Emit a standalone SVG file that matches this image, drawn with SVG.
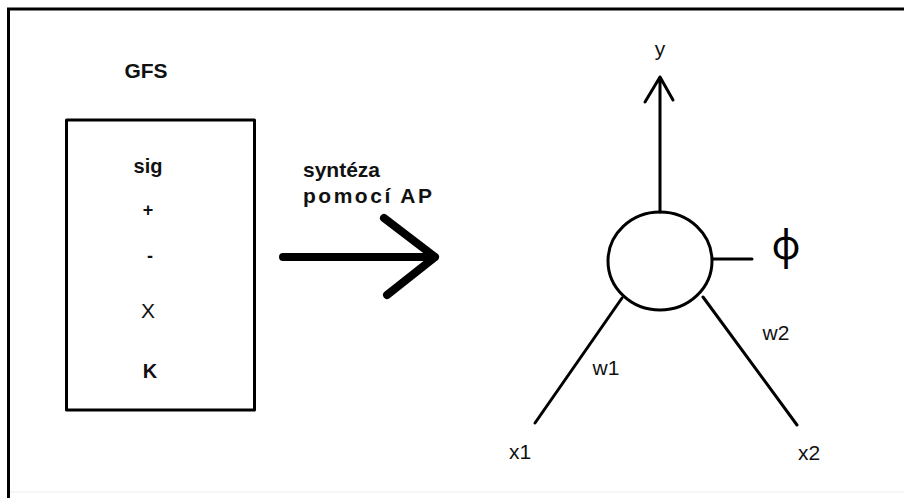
<svg xmlns="http://www.w3.org/2000/svg" width="904" height="498" viewBox="0 0 904 498">
<style>
.t{font-family:"Liberation Sans",Arial,sans-serif;fill:#111;}
.b{font-weight:bold;}
.ln{stroke:#000;fill:none;stroke-width:3;stroke-linecap:round;stroke-linejoin:round;}
.thick{stroke:#000;fill:none;stroke-width:8;stroke-linecap:round;stroke-linejoin:round;}
</style>
<rect x="0" y="0" width="904" height="498" fill="#fff"/>
<g id="frame">
<line x1="7" y1="9" x2="904" y2="9" stroke="#000" stroke-width="3"/>
<line x1="8.5" y1="8" x2="8.5" y2="498" stroke="#000" stroke-width="3"/>
<line x1="10" y1="492" x2="904" y2="492" stroke="#eee" stroke-width="1"/>
</g>
<g id="gfs">
<text class="t b" x="146" y="78" font-size="21" text-anchor="middle">GFS</text>
<rect x="66.5" y="120" width="188" height="290" class="ln" stroke-linecap="butt"/>
<text class="t b" x="148" y="173" font-size="20" text-anchor="middle">sig</text>
<text class="t b" x="148" y="216" font-size="18" text-anchor="middle">+</text>
<text class="t b" x="150" y="262" font-size="18" text-anchor="middle">-</text>
<text class="t" x="148" y="318" font-size="21" text-anchor="middle">X</text>
<text class="t b" x="150" y="378" font-size="20" text-anchor="middle">K</text>
</g>
<g id="synthesis">
<text class="t b" x="303" y="177" font-size="21">syntéza</text>
<text class="t b" x="303" y="203" font-size="21" textLength="129">pomocí AP</text>
</g>
<g id="neuron">
<ellipse cx="660" cy="261" rx="52" ry="49" class="ln"/>
<text class="t" x="660" y="56" font-size="21" text-anchor="middle">y</text>
<text x="786" y="259" font-size="40" font-weight="400" text-anchor="middle" font-family="Noto Sans, DejaVu Sans, sans-serif" fill="#000">ϕ</text>
<text class="t" x="606" y="375" font-size="21" text-anchor="middle">w1</text>
<text class="t" x="776" y="340" font-size="21" text-anchor="middle">w2</text>
<text class="t" x="520" y="459" font-size="21" text-anchor="middle">x1</text>
<text class="t" x="809" y="460" font-size="21" text-anchor="middle">x2</text>
</g>
<g id="connectors">
<path class="thick" d="M283,257 H435 M384,218 L435,257 L387,295"/>
<path class="ln" d="M660,212 V77 M645,102 L660,77 L673,100"/>
<line class="ln" x1="713" y1="259" x2="752" y2="259"/>
<line class="ln" x1="622" y1="298" x2="535" y2="423"/>
<line class="ln" x1="703" y1="297" x2="797" y2="425"/>
</g>
</svg>
